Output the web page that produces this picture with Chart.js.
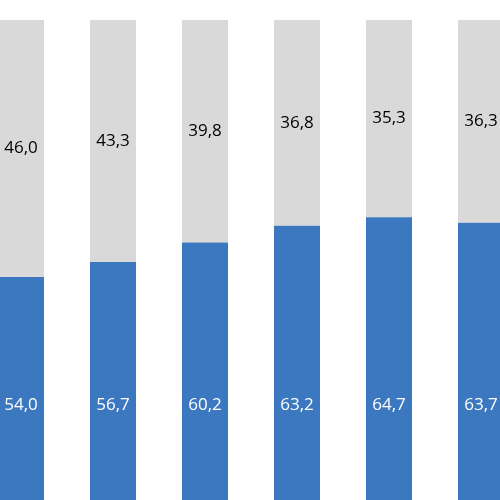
<!DOCTYPE html>
<html><head><meta charset="utf-8">
<script src="https://cdn.jsdelivr.net/npm/chart.js@4"></script>
<style>html,body{margin:0;padding:0;background:#fff;overflow:hidden;width:500px;height:500px}
#w{position:absolute;left:-25px;top:20px;width:552px;height:480px}</style>
</head><body><div id="w"><canvas id="c"></canvas></div>
<script>
const categories=["1","2","3","4","5","6"];
const blueValues=[54.0,56.7,60.2,63.2,64.7,63.7];
const greyValues=[46.0,43.3,39.8,36.8,35.3,36.3];
const fmt=v=>v.toFixed(1).replace('.',',');
const labelPlugin={id:'lbl',afterDatasetsDraw(ch){
 const ctx=ch.ctx,y=ch.scales.y;
 ctx.save();ctx.font='17px "Open Sans", sans-serif';ctx.textAlign='center';ctx.textBaseline='middle';
 ch.getDatasetMeta(0).data.forEach((b,i)=>{ctx.fillStyle='#fff';ctx.fillText(fmt(blueValues[i]),b.x,y.getPixelForValue(31));});
 ch.getDatasetMeta(1).data.forEach((b,i)=>{ctx.fillStyle='#000';ctx.fillText(fmt(greyValues[i]),b.x,y.getPixelForValue(blueValues[i]+greyValues[i]/2));});
 ctx.restore();}};
new Chart(document.getElementById('c'),{type:'bar',
 data:{labels:categories,datasets:[
  {data:blueValues,backgroundColor:'#3c78bf'},
  {data:greyValues,backgroundColor:'#d9d9d9'}]},
 options:{responsive:true,maintainAspectRatio:false,animation:false,
  layout:{padding:0},
  datasets:{bar:{barPercentage:0.5,categoryPercentage:1}},
  plugins:{legend:{display:false},tooltip:{enabled:false}},
  scales:{x:{display:false,stacked:true},y:{display:false,stacked:true,min:14.1,max:100}}},
 plugins:[labelPlugin]});
</script></body></html>
